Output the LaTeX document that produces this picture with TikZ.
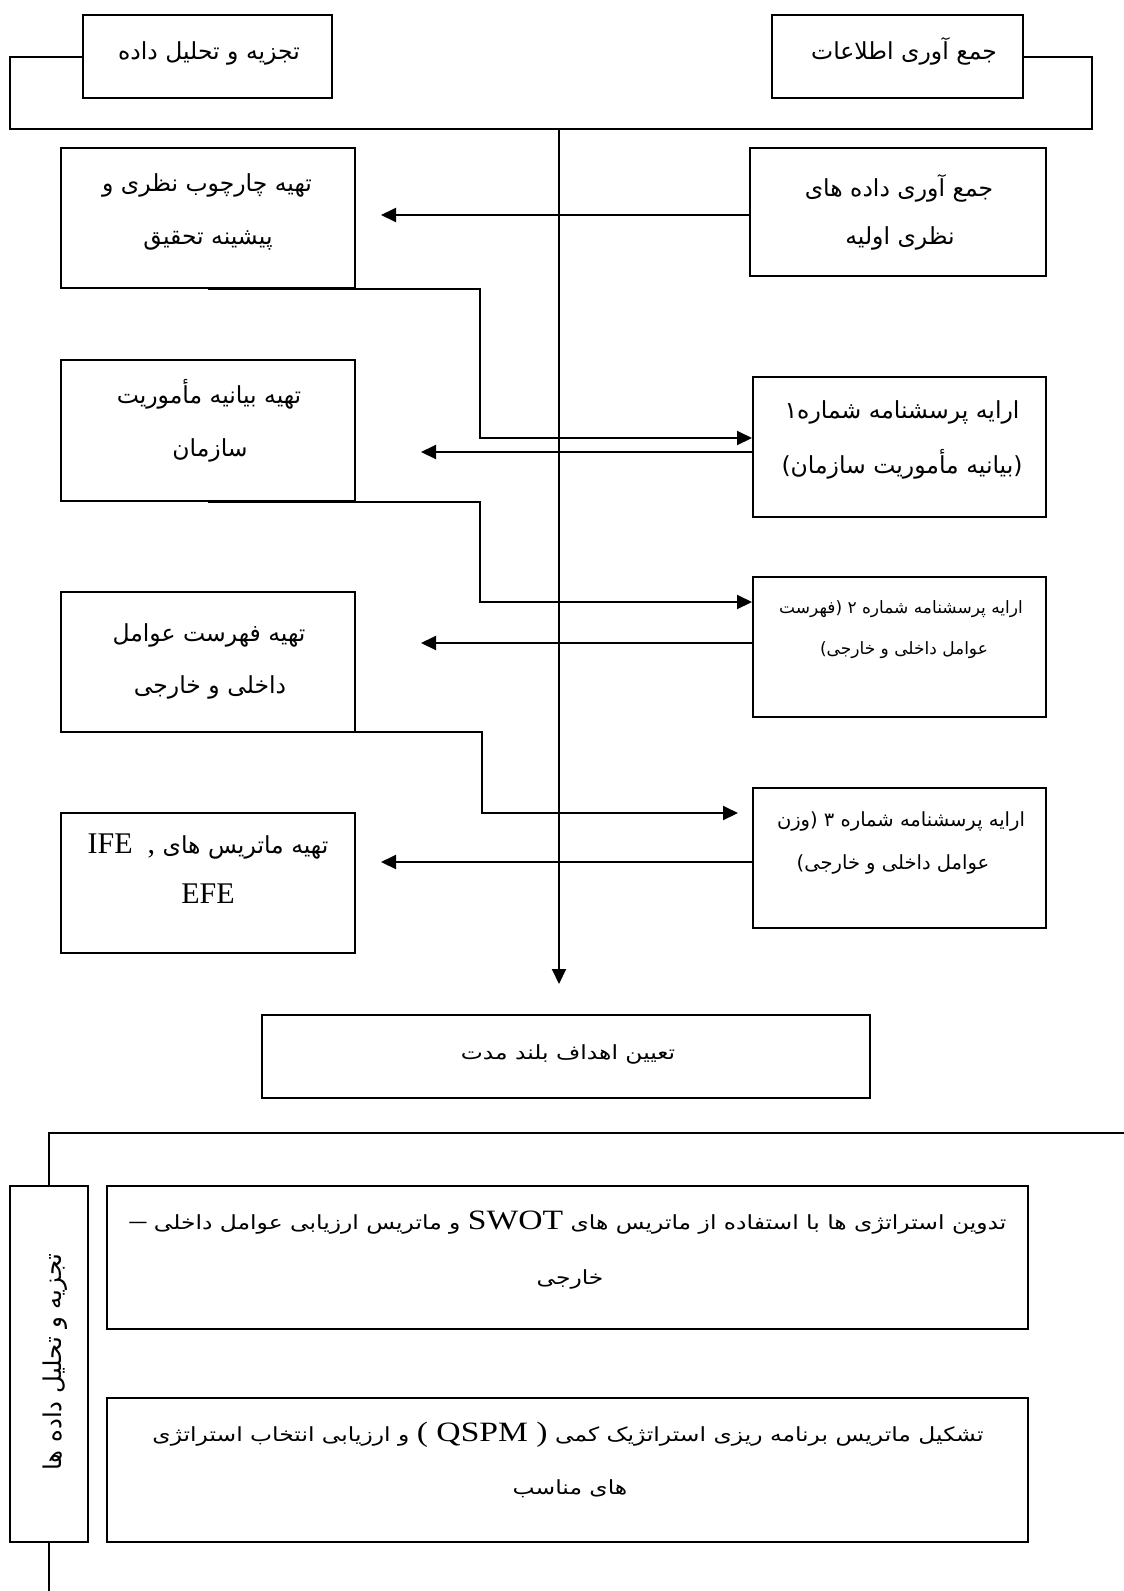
\documentclass[tikz,border=0pt]{standalone}
\usepackage{fontspec}
\usetikzlibrary{arrows.meta}
\newfontfamily\ar[Script=Arabic]{DejaVu Sans}
\newfontfamily\arn[Script=Arabic,FakeStretch=1.2]{DejaVu Sans}
\newfontfamily\lat{Liberation Serif}
\newfontfamily\latn[FakeStretch=1.2]{Liberation Serif}
\TeXXeTstate=1
\newcommand\RL[1]{\beginR #1\endR}
\begin{document}
\begin{tikzpicture}[x=1pt,y=-1pt,
  box/.style={draw, line width=2pt, rectangle, inner sep=0pt},
  conn/.style={line width=2pt},
  arr/.style={line width=2pt, -{Triangle[length=15pt,width=14pt]}},
  txt/.style={inner sep=0pt, text height=18pt, text depth=5pt, font=\ar\fontsize{23.5}{26}\selectfont},
  txts/.style={txt, font=\ar\fontsize{17}{20}\selectfont},
  txtm/.style={txt, font=\ar\fontsize{19.5}{24}\selectfont},
  txtn/.style={txt, font=\arn\fontsize{19.5}{23}\selectfont},
  txtv/.style={txt, font=\ar\fontsize{24.5}{26}\selectfont}]
\useasboundingbox (0,0) rectangle (1124,1591);
% boxes
\node[box, minimum width=249pt, minimum height=83pt] (A) at (207.5,56.5) {};
\node[box, minimum width=251pt, minimum height=83pt] (B) at (897.5,56.5) {};
\node[box, minimum width=294pt, minimum height=140pt] (C) at (208,218) {};
\node[box, minimum width=296pt, minimum height=128pt] (D) at (898,212) {};
\node[box, minimum width=293pt, minimum height=140pt] (E) at (899.5,447) {};
\node[box, minimum width=294pt, minimum height=141pt] (F) at (208,430.5) {};
\node[box, minimum width=293pt, minimum height=140pt] (G) at (899.5,647) {};
\node[box, minimum width=294pt, minimum height=140pt] (H) at (208,662) {};
\node[box, minimum width=293pt, minimum height=140pt] (I) at (899.5,858) {};
\node[box, minimum width=294pt, minimum height=140pt] (J) at (208,883) {};
\node[box, minimum width=608pt, minimum height=83pt] (K) at (566,1056.5) {};
\node[box, minimum width=78pt, minimum height=356pt] (L) at (49,1364) {};
\node[box, minimum width=921pt, minimum height=143pt] (M) at (567.5,1257.5) {};
\node[box, minimum width=921pt, minimum height=144pt] (N) at (567.5,1470) {};
% texts
\node[txt] (tA) at (209,53) {\RL{تجزیه و تحلیل داده}};
\node[txt] (tB) at (904,53) {\RL{جمع آوری اطلاعات}};
\node[txt] (tC1) at (207,185) {\RL{تهیه چارچوب نظری و}};
\node[txt] (tC2) at (208,238) {\RL{پیشینه تحقیق}};
\node[txt] (tD1) at (899,190) {\RL{جمع آوری داده های}};
\node[txt] (tD2) at (900,238) {\RL{نظری اولیه}};
\node[txt] (tE1) at (902,412) {\RL{ارایه پرسشنامه شماره۱}};
\node[txt] (tE2) at (902,467) {\RL{(بیانیه مأموریت سازمان)}};
\node[txt] (tF1) at (209,397) {\RL{تهیه بیانیه مأموریت}};
\node[txt] (tF2) at (210,450) {\RL{سازمان}};
\node[txts] (tG1) at (901,607) {\RL{ارایه پرسشنامه شماره ۲ (فهرست}};
\node[txts] (tG2) at (904,648) {\RL{عوامل داخلی و خارجی)}};
\node[txt] (tH1) at (209,635) {\RL{تهیه فهرست عوامل}};
\node[txt] (tH2) at (210,687) {\RL{داخلی و خارجی}};
\node[txtm] (tI1) at (901,820) {\RL{ارایه پرسشنامه شماره ۳ (وزن}};
\node[txtm] (tI2) at (893,863) {\RL{عوامل داخلی و خارجی)}};
\node[txt] (tJ1) at (208,847) {\RL{تهیه ماتریس های {\lat\fontsize{30}{30}\selectfont ,\ \ IFE}}};
\node[txt] (tJ2) at (208,897) {{\lat\fontsize{30}{30}\selectfont EFE}};
\node[txtn] (tK) at (568,1053) {\RL{تعیین اهداف بلند مدت}};
\node[txtn] (tM1) at (568,1223) {\RL{تدوین استراتژی ها با استفاده از ماتریس های {\latn\fontsize{28}{30}\selectfont SWOT} و ماتریس ارزیابی عوامل داخلی {\latn\fontsize{28}{30}\selectfont –}}};
\node[txtn] (tM2) at (570,1278) {\RL{خارجی}};
\node[txtn] (tN1) at (568,1435) {\RL{تشکیل ماتریس برنامه ریزی استراتژیک کمی \beginL{\latn\fontsize{28}{30}\selectfont ( QSPM )}\endL{} و ارزیابی انتخاب استراتژی}};
\node[txtn] (tN2) at (570,1488) {\RL{های مناسب}};
\node[txtv, rotate=90] (tL) at (55,1362) {\RL{تجزیه و تحلیل داده ها}};
% top bracket and main arrow
\coordinate (top) at (559,129);
\coordinate (bl) at (10,129);
\coordinate (br) at (1092,129);
\draw[conn] (A.west) -| (bl) -- (br) |- (B.east);
\draw[arr, shorten >=30pt] (top) -- (top |- K.north);
% horizontal arrows
\coordinate (tC) at (381,215);
\draw[arr] (D.west |- tC) -- (tC);
\coordinate (cE) at (480,438);
\draw[arr] (C.south) -| (cE) -- (E.west |- cE);
\coordinate (tF) at (421,452);
\draw[arr] (E.west |- tF) -- (tF);
\coordinate (cG) at (480,602);
\draw[arr] (F.south) -| (cG) -- (G.west |- cG);
\coordinate (tH) at (421,643);
\draw[arr] (G.west |- tH) -- (tH);
\coordinate (sH) at (223,732);
\coordinate (cI) at (482,813);
\coordinate (tI) at (738,813);
\draw[arr] (sH) -| (cI) -- (tI);
\coordinate (tJ) at (381,862);
\draw[arr] (I.west |- tJ) -- (tJ);
% bottom section
\coordinate (ll) at (49,1133);
\coordinate (lr) at (1124,1133);
\coordinate (lb) at (49,1591);
\draw[conn] (lr) -- (ll) -- (L.north);
\draw[conn] (L.south) -- (lb);
\end{tikzpicture}
\end{document}
